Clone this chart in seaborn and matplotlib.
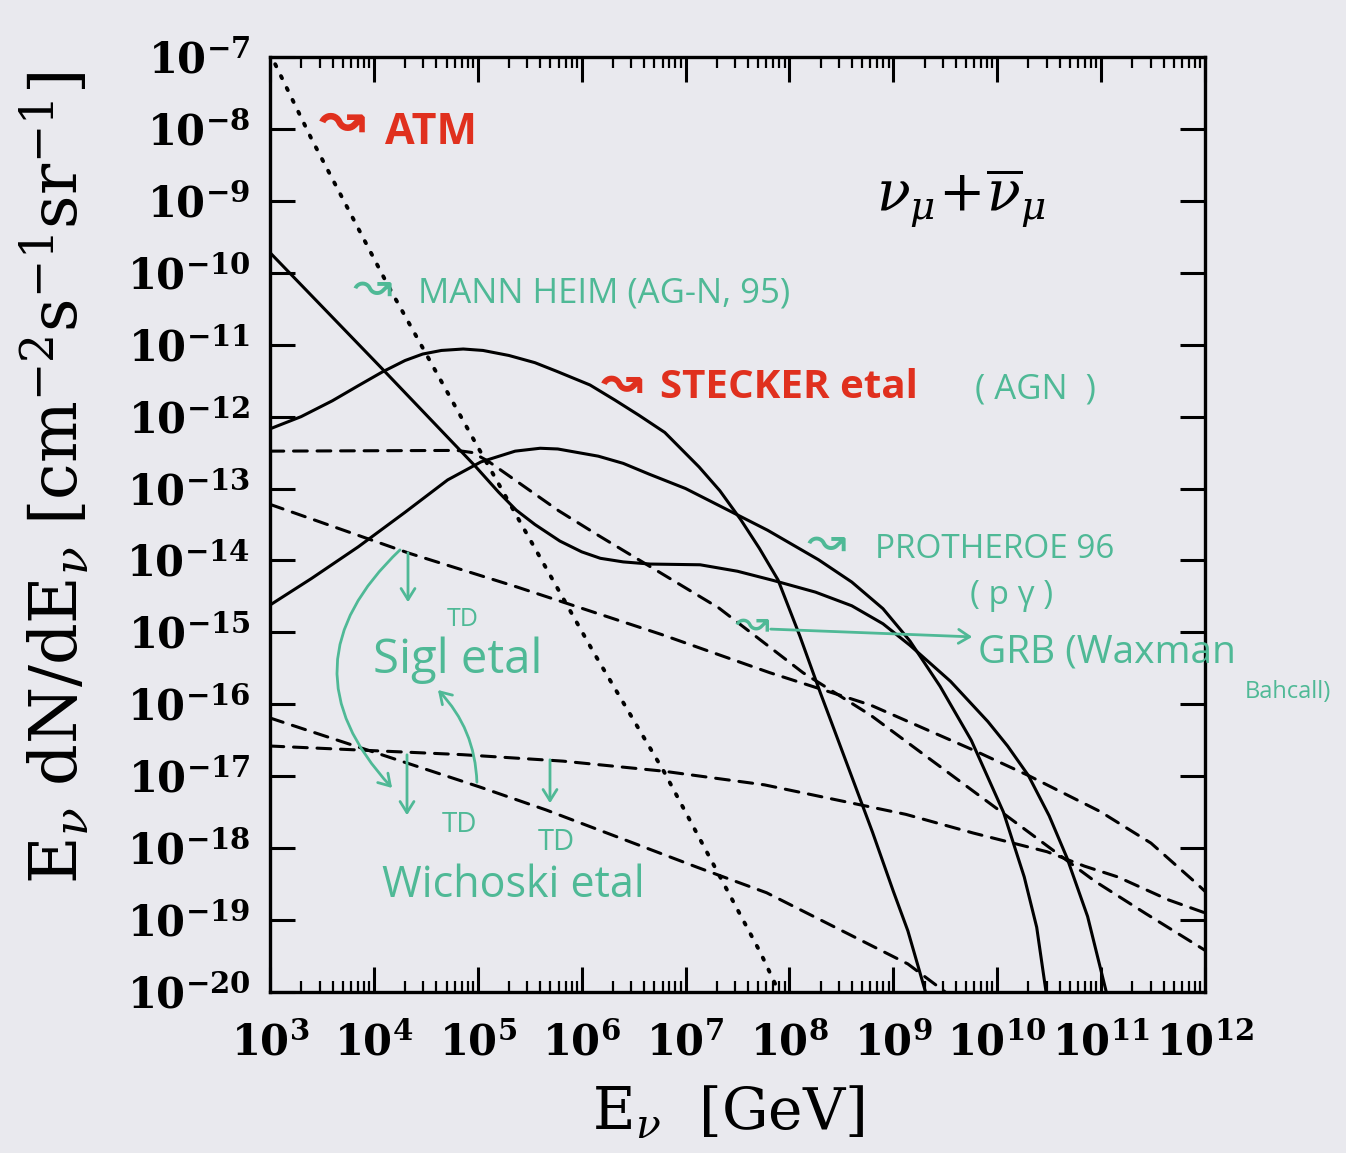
import numpy as np
import matplotlib
matplotlib.use("Agg")
import matplotlib.pyplot as plt
from matplotlib.ticker import LogLocator, FuncFormatter, NullLocator
import seaborn as sns

# values: log10(E / GeV) and log10(E dN/dE)
atm_logE = [3.05, 3.40, 4.13, 4.98, 6.12, 6.79, 7.72, 7.90]
atm_logF = [-7.10, -8.14, -10.16, -12.37, -15.29, -16.93, -19.45, -20.0]

mannheim_logE = [3.0, 4.09, 4.97, 5.2, 5.37, 5.55, 5.79, 6.0, 6.18, 6.4, 6.66, 7.14,
                 7.5, 7.85, 8.25, 8.60, 8.9, 9.16, 9.55, 9.91, 10.1, 10.30, 10.5,
                 10.67, 10.87, 11.05]
mannheim_logF = [-9.72, -11.35, -12.68, -13.05, -13.30, -13.50, -13.73, -13.88,
                 -13.97, -14.02, -14.05, -14.06, -14.15, -14.28, -14.44, -14.63,
                 -14.88, -15.18, -15.68, -16.24, -16.58, -16.99, -17.55, -18.13,
                 -18.95, -20.0]

stecker_logE = [3.0, 3.3, 3.6, 3.85, 4.08, 4.3, 4.47, 4.65, 4.86, 5.05, 5.30, 5.55,
                5.76, 6.08, 6.32, 6.55, 6.80, 7.13, 7.33, 7.53, 7.71, 7.89, 8.1,
                8.30, 8.43, 8.80, 9.0, 9.14, 9.31]
stecker_logF = [-12.17, -12.0, -11.78, -11.57, -11.38, -11.22, -11.13, -11.08,
                -11.06, -11.08, -11.15, -11.25, -11.37, -11.56, -11.77, -11.98,
                -12.22, -12.70, -13.03, -13.43, -13.83, -14.27, -15.05, -15.85,
                -16.35, -17.78, -18.6, -19.15, -20.0]

protheroe_logE = [3.0, 3.4, 3.85, 4.3, 4.71, 5.03, 5.36, 5.6, 5.77, 6.16, 6.4, 6.65,
                  7.0, 7.30, 7.79, 8.28, 8.60, 8.90, 9.16, 9.45, 9.75, 10.06, 10.26,
                  10.38, 10.47]
protheroe_logF = [-14.62, -14.25, -13.81, -13.33, -12.88, -12.63, -12.48, -12.44,
                  -12.45, -12.55, -12.65, -12.80, -13.0, -13.22, -13.58, -13.99,
                  -14.30, -14.67, -15.12, -15.75, -16.50, -17.50, -18.40, -19.10,
                  -20.0]

grb_logE = [3.0, 4.80, 4.95, 5.10, 5.78, 6.17, 7.32, 8.13, 8.78, 10.09, 10.94, 11.43, 12.0]
grb_logF = [-12.48, -12.47, -12.50, -12.62, -13.31, -13.66, -14.66, -15.56,
            -16.15, -17.55, -18.46, -18.91, -19.42]

sigl_logE = [3.0, 4.34, 5.38, 6.77, 7.81, 8.78, 9.76, 10.30, 10.99, 11.48, 11.91, 12.0]
sigl_logF = [-13.22, -13.90, -14.37, -15.03, -15.56, -16.01, -16.63, -16.99,
             -17.49, -17.93, -18.48, -18.60]

td_flat_logE = [3.0, 4.85, 5.82, 6.79, 7.76, 9.12, 9.77, 10.48, 10.84, 11.16, 11.65, 12.0]
td_flat_logF = [-16.58, -16.70, -16.79, -16.93, -17.12, -17.53, -17.79, -18.05,
                -18.25, -18.40, -18.72, -18.90]

wichoski_logE = [3.0, 5.02, 5.66, 7.12, 7.78, 9.14, 9.50]
wichoski_logF = [-16.19, -17.15, -17.47, -18.27, -18.62, -19.61, -20.0]

paper = "#e9e9ee"
red = "#e0301e"
teal = "#4fb996"

sns.set_theme(style="ticks")
plt.rcParams["font.family"] = ["DejaVu Sans"]
plt.rcParams["mathtext.fontset"] = "dejavuserif"

W, H = 1346, 1153
fig = plt.figure(figsize=(W / 100, H / 100), dpi=100, facecolor=paper)
ax = fig.add_axes([270 / W, 1 - 992 / H, 935 / W, 935 / H])
ax.set_facecolor(paper)


def curve(logE, logF, ls, lw=2.2):
    sns.lineplot(x=10 ** np.array(logE), y=10 ** np.array(logF), ax=ax,
                 color="black", linewidth=lw, linestyle=ls, sort=False,
                 estimator=None, dash_capstyle="round" if ls != "-" else "butt",
                 solid_joinstyle="round")


curve(atm_logE, atm_logF, (0, (0.6, 2.8)), lw=2.8)
for e, f in [(mannheim_logE, mannheim_logF), (stecker_logE, stecker_logF),
             (protheroe_logE, protheroe_logF)]:
    curve(e, f, "-")
for e, f in [(grb_logE, grb_logF), (sigl_logE, sigl_logF),
             (td_flat_logE, td_flat_logF), (wichoski_logE, wichoski_logF)]:
    curve(e, f, (0, (4.5, 3.2)))

ax.set_xscale("log")
ax.set_yscale("log")
ax.set_xlim(1e3, 1e12)
ax.set_ylim(1e-20, 1e-7)

fmt = FuncFormatter(lambda v, _: r"$\mathbf{10}^{\mathbf{%d}}$" % round(np.log10(v)))
ax.xaxis.set_major_locator(LogLocator(base=10, numticks=20))
ax.xaxis.set_minor_locator(LogLocator(base=10, subs=np.arange(2, 10), numticks=20))
ax.yaxis.set_major_locator(LogLocator(base=10, numticks=20))
ax.yaxis.set_minor_locator(NullLocator())
ax.xaxis.set_major_formatter(fmt)
ax.yaxis.set_major_formatter(fmt)
ax.tick_params(which="both", direction="in", top=True, right=True, colors="black",
               labelsize=30)
ax.tick_params(which="major", length=18, width=2.2)
ax.tick_params(axis="y", which="major", pad=14)
ax.tick_params(axis="x", which="major", pad=22)
ax.tick_params(which="minor", length=8, width=1.6)
for sp in ax.spines.values():
    sp.set_linewidth(2.4)
    sp.set_color("black")

ax.set_xlabel(r"$\mathrm{E}_\nu\ \ [\mathrm{GeV}]$", fontsize=42, color="black")
ax.set_ylabel(r"$\mathrm{E}_\nu\ \mathrm{dN/dE}_\nu\ [\mathrm{cm}^{-2}\mathrm{s}^{-1}\mathrm{sr}^{-1}]$",
              fontsize=47, color="black")
ax.xaxis.set_label_coords(0.49, -0.098)
ax.yaxis.set_label_coords(-0.19, 0.55)


def txt(x, y, s, **kw):
    kw.setdefault("ha", "left")
    kw.setdefault("va", "center")
    fig.text(x / W, 1 - y / H, s, **kw)


def arrow(x0, y0, x1, y1, rad=0.0, color=teal, lw=2.0):
    fig.add_artist(matplotlib.patches.FancyArrowPatch(
        (x0 / W, 1 - y0 / H), (x1 / W, 1 - y1 / H), transform=fig.transFigure,
        arrowstyle="->,head_length=8,head_width=5", color=color, lw=lw,
        connectionstyle="arc3,rad=%s" % rad))


hand = ["Open Sans", "DejaVu Sans"]
squig = ["DejaVu Sans"]

txt(342, 122, "\u219d", color=red, fontsize=40, ha="center", family=squig, fontweight="bold")
txt(385, 133, "ATM", color=red, fontsize=31, family=hand, fontweight="bold")

txt(372, 288, "\u219d", color=teal, fontsize=34, ha="center", family=squig)
txt(418, 293, "MANN HEIM (AG-N, 95)", color=teal, fontsize=25, family=hand)

txt(622, 383, "\u219d", color=red, fontsize=36, ha="center", family=squig, fontweight="bold")
txt(660, 388, "STECKER etal", color=red, fontsize=29, family=hand, fontweight="bold")
txt(975, 390, "( AGN  )", color=teal, fontsize=25, family=hand)

txt(826, 543, "\u219d", color=teal, fontsize=34, ha="center", family=squig)
txt(875, 550, "PROTHEROE 96", color=teal, fontsize=24, family=hand)
txt(1012, 595, "( p \u03b3 )", color=teal, fontsize=24, ha="center", family=hand)

txt(752, 624, "\u219d", color=teal, fontsize=30, ha="center", family=squig)
arrow(768, 629, 975, 637)
txt(978, 652, "GRB (Waxman", color=teal, fontsize=28, family=hand)
txt(1288, 692, "Bahcall)", color=teal, fontsize=17, ha="center", family=hand)

txt(961, 198, r"$\nu_\mu\!+\!\overline{\nu}_\mu$", color="black", fontsize=40, ha="center")

# TD annotations
txt(463, 620, "TD", color=teal, fontsize=18, ha="center", family=hand)
txt(458, 660, "Sigl etal", color=teal, fontsize=34, ha="center", family=hand)
txt(460, 825, "TD", color=teal, fontsize=20, ha="center", family=hand)
txt(556, 843, "TD", color=teal, fontsize=21, ha="center", family=hand)
txt(513, 886, "Wichoski etal", color=teal, fontsize=31, ha="center", family=hand)

arrow(408, 550, 408, 605)
arrow(407, 752, 407, 818)
arrow(550, 757, 550, 806)
arrow(402, 548, 394, 790, rad=0.5)
arrow(477, 785, 436, 688, rad=0.2)

fig.savefig("out.png", dpi=100, facecolor=paper)
